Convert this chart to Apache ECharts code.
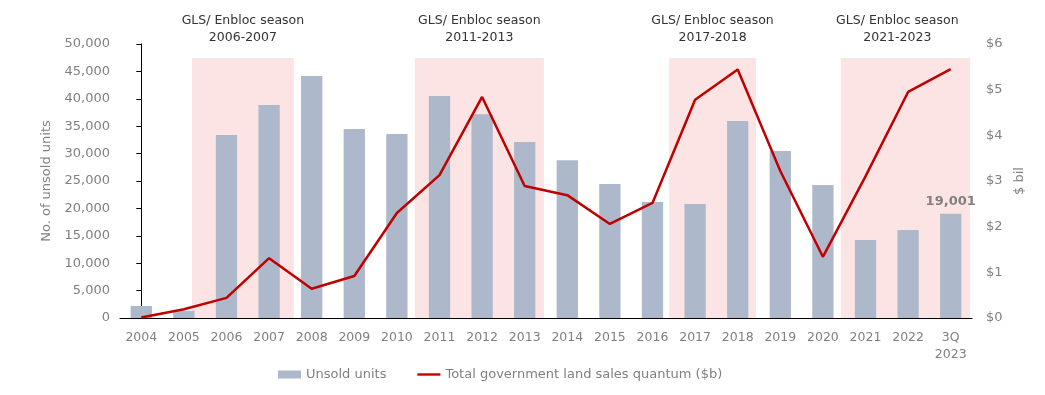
<!DOCTYPE html>
<html>
<head>
<meta charset="utf-8">
<script src="https://cdn.jsdelivr.net/npm/echarts@6/dist/echarts.min.js"></script>
<style>html,body{margin:0;padding:0;background:#fff;}#c{width:1045px;height:395px;}</style>
</head>
<body>
<div id="c"></div>
<script>
const categories = ['2004','2005','2006','2007','2008','2009','2010','2011','2012','2013','2014','2015','2016','2017','2018','2019','2020','2021','2022','3Q\n2023'];
const unsoldUnits = [2190,1330,33400,38870,44160,34490,33580,40500,37200,32100,28800,24450,21170,20800,35950,30470,24270,14230,16060,19001];
const glsQuantum = [0.01,0.19,0.44,1.31,0.64,0.92,2.30,3.13,4.84,2.89,2.69,2.06,2.52,4.78,5.44,3.22,1.34,3.10,4.95,5.45];
const seasonLabels = ['2006-2007','2011-2013','2017-2018','2021-2023'];
const seasonStart = [1.19,6.42,12.39,16.42];
const seasonEnd = [3.58,9.45,14.43,19.45];
const seasonTop = 47450;
const leftTicks = {min:0,max:50000,interval:5000};
const rightTicks = {min:0,max:6,interval:1};

const FONT = 'DejaVu Sans';
const GRAY = '#808080';
const chart = echarts.init(document.getElementById('c'), null, {renderer:'canvas'});
const lastIdx = unsoldUnits.length - 1;

const areas = seasonLabels.map((s, i) => [
  {coord:[seasonStart[i], 0],
   label:{show:true, position:'top', distance:12, formatter:'GLS/ Enbloc season\n' + s,
          color:'#333', fontFamily:FONT, fontSize:12.5, lineHeight:17,
          offset: i === 3 ? [-8,0] : [0,0]}},
  {coord:[seasonEnd[i], seasonTop]}
]);

chart.setOption({
  animation:false,
  textStyle:{fontFamily:FONT},
  grid:{left:120, right:73, top:44, bottom:77},
  legend:{
    left:273, top:363, itemWidth:23, itemHeight:8, itemGap:31,
    textStyle:{color:GRAY, fontSize:13, fontFamily:FONT},
    data:[{name:'Unsold units', icon:'rect'},
          {name:'Total government land sales quantum ($b)', icon:'path://M0 0H24V2.5H0Z'}]
  },
  xAxis:[{
    type:'category', data:categories,
    axisLine:{lineStyle:{color:'#000', width:1}},
    axisTick:{show:false},
    axisLabel:{color:GRAY, fontSize:12.5, margin:11, lineHeight:17, fontFamily:FONT, interval:0}
  },{
    type:'value', min:-0.5, max:19.5, show:false
  }],
  yAxis:[{
    type:'value', min:leftTicks.min, max:leftTicks.max, interval:leftTicks.interval,
    name:'No. of unsold units', nameLocation:'middle', nameGap:62,
    nameTextStyle:{color:GRAY, fontSize:13, fontFamily:FONT},
    axisLine:{show:true, lineStyle:{color:'#000'}},
    axisTick:{show:true, length:5, lineStyle:{color:'#000'}},
    splitLine:{show:false},
    axisLabel:{color:GRAY, fontSize:13, margin:10, fontFamily:FONT,
      formatter:v => v.toLocaleString('en-US')}
  },{
    type:'value', min:rightTicks.min, max:rightTicks.max, interval:rightTicks.interval,
    position:'right',
    name:'$ bil', nameLocation:'middle', nameGap:30,
    nameTextStyle:{color:GRAY, fontSize:13, fontFamily:FONT},
    axisLine:{show:false}, axisTick:{show:false}, splitLine:{show:false},
    axisLabel:{color:GRAY, fontSize:13, margin:14, fontFamily:FONT, formatter:v => '$' + v}
  }],
  series:[{
    name:'seasons', type:'line', xAxisIndex:1, yAxisIndex:0, data:[], z:1,
    silent:true,
    markArea:{silent:true, itemStyle:{color:'#fce4e4'}, data:areas}
  },{
    name:'Unsold units', type:'bar', xAxisIndex:0, yAxisIndex:0, barWidth:'50%', z:2,
    itemStyle:{color:'#adb9ca'},
    data:unsoldUnits.map((v, i) => i === lastIdx
      ? {value:v, label:{show:true, position:'top', distance:6, color:GRAY, fontSize:13,
          fontWeight:'bold', fontFamily:FONT, formatter:p => p.value.toLocaleString('en-US')}}
      : v)
  },{
    name:'Total government land sales quantum ($b)', type:'line', xAxisIndex:0, yAxisIndex:1, z:3,
    data:glsQuantum, symbol:'none', showSymbol:false,
    lineStyle:{color:'#c00000', width:2.5}, itemStyle:{color:'#c00000'}
  }]
});
</script>
</body>
</html>
